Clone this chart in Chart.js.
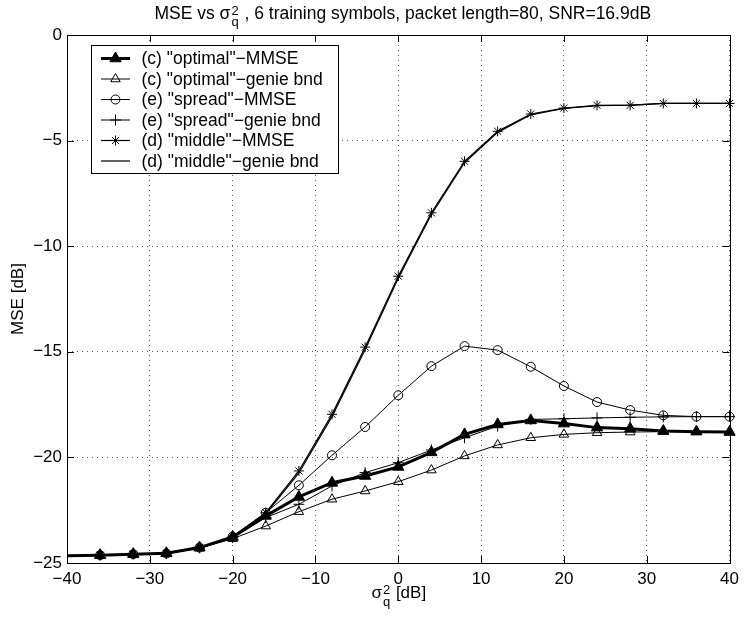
<!DOCTYPE html>
<html>
<head>
<meta charset="utf-8">
<script src="https://cdn.jsdelivr.net/npm/chart.js@4.4.0/dist/chart.umd.min.js"></script>
<style>
  html, body { margin: 0; padding: 0; background: #fff; }
  #wrap { width: 745px; height: 619px; }
</style>
</head>
<body>
<div id="wrap"><canvas id="mseChart" width="745" height="619"></canvas></div>
<script>
// sigma_q^2 [dB] at which the curves were evaluated
const sigmaDb = [-40, -36, -32, -28, -24, -20, -16, -12, -8, -4, 0, 4, 8, 12, 16, 20, 24, 28, 32, 36, 40];

// MSE [dB]
const optimalMmse  = [-24.66, -24.63, -24.58, -24.54, -24.27, -23.77, -22.77, -21.87, -21.20, -20.88, -20.45, -19.76, -18.91, -18.44, -18.25, -18.40, -18.59, -18.64, -18.75, -18.78, -18.80];
const optimalGenie = [-24.66, -24.63, -24.58, -24.56, -24.30, -23.85, -23.25, -22.57, -21.98, -21.59, -21.15, -20.60, -19.93, -19.41, -19.07, -18.91, -18.83, -18.80, -18.78, -18.78, -18.78];
const spreadMmse   = [-24.66, -24.63, -24.58, -24.55, -24.27, -23.75, -22.62, -21.32, -19.90, -18.56, -17.06, -15.68, -14.73, -14.92, -15.71, -16.62, -17.38, -17.76, -18.01, -18.07, -18.07];
const spreadGenie  = [-24.66, -24.63, -24.58, -24.55, -24.28, -23.80, -22.85, -22.22, -21.35, -20.72, -20.25, -19.65, -19.07, -18.52, -18.20, -18.17, -18.13, -18.10, -18.08, -18.07, -18.07];
const middleMmse   = [-24.66, -24.63, -24.58, -24.55, -24.27, -23.75, -22.62, -20.64, -17.96, -14.78, -11.42, -8.42, -5.98, -4.56, -3.74, -3.46, -3.33, -3.33, -3.24, -3.24, -3.24];
const middleGenie  = [-24.66, -24.63, -24.58, -24.55, -24.28, -23.78, -22.68, -20.74, -18.07, -14.89, -11.52, -8.50, -6.05, -4.61, -3.78, -3.48, -3.34, -3.32, -3.24, -3.24, -3.24];

const seriesLabels = [
    '(c) "optimal"\u2212MMSE',
    '(c) "optimal"\u2212genie bnd',
    '(e) "spread"\u2212MMSE',
    '(e) "spread"\u2212genie bnd',
    '(d) "middle"\u2212MMSE',
    '(d) "middle"\u2212genie bnd'
];

const FONT = '"Liberation Sans", Arial, Helvetica, sans-serif';

function toPoints(ys) {
    return sigmaDb.map((x, i) => ({ x: x, y: ys[i] }));
}

// no marker at the very first sample (matches the original figure)
function markerRadius(r) {
    return ctx => (ctx.dataIndex === 0 ? 0 : r);
}

function matlabTick(v) {
    return v < 0 ? '\u2212' + Math.abs(v) : String(v);
}

function drawMarker(ctx, style, radius, x, y) {
    if (Chart.helpers && Chart.helpers.drawPoint) {
        Chart.helpers.drawPoint(ctx, { pointStyle: style, radius: radius, rotation: 0, borderWidth: 1 }, x, y);
        return;
    }
    ctx.beginPath();
    ctx.arc(x, y, radius, 0, Math.PI * 2);
    ctx.fill();
    ctx.stroke();
}

// text like "σ" with stacked ^2 and _q
function drawSigmaText(ctx, before, after, cx, base, size) {
    const big = size + 'px ' + FONT;
    const small = Math.round(size * 0.75) + 'px ' + FONT;
    ctx.font = big;
    const w1 = ctx.measureText(before).width;
    const w3 = ctx.measureText(after).width;
    ctx.font = small;
    const w2 = Math.max(ctx.measureText('2').width, ctx.measureText('q').width) + 1;
    let x = cx - (w1 + w2 + w3) / 2;
    ctx.textAlign = 'left';
    ctx.textBaseline = 'alphabetic';
    ctx.font = big;
    ctx.fillText(before, x, base);
    x += w1 + 1;
    ctx.font = small;
    ctx.fillText('2', x, base - 4);
    ctx.fillText('q', x, base + 7.5);
    x += w2;
    ctx.font = big;
    ctx.fillText(after, x, base);
}

const decorPlugin = {
    id: 'decor',
    afterDraw(chart) {
        const { ctx, chartArea } = chart;
        const xs = chart.scales.x;
        const ys = chart.scales.y;
        const { left, right, top, bottom } = chartArea;
        ctx.save();
        ctx.fillStyle = '#000';
        ctx.strokeStyle = '#000';

        // axes box + inward ticks
        ctx.lineWidth = 1;
        ctx.strokeRect(Math.round(left) + 0.5, Math.round(top) + 0.5, Math.round(right - left), Math.round(bottom - top));
        ctx.beginPath();
        xs.ticks.forEach(t => {
            const px = Math.round(xs.getPixelForValue(t.value)) + 0.5;
            ctx.moveTo(px, bottom); ctx.lineTo(px, bottom - 7);
            ctx.moveTo(px, top); ctx.lineTo(px, top + 7);
        });
        ys.ticks.forEach(t => {
            const py = Math.round(ys.getPixelForValue(t.value)) + 0.5;
            ctx.moveTo(left, py); ctx.lineTo(left + 7, py);
            ctx.moveTo(right, py); ctx.lineTo(right - 7, py);
        });
        ctx.stroke();

        // title and axis labels
        drawSigmaText(ctx, 'MSE vs \u03c3', ' , 6 training symbols, packet length=80, SNR=16.9dB', (left + right) / 2 + 4, 18.5, 17.5);
        drawSigmaText(ctx, '\u03c3', ' [dB]', (left + right) / 2, 598, 17);
        ctx.save();
        ctx.translate(18, (top + bottom) / 2);
        ctx.rotate(-Math.PI / 2);
        ctx.font = '17px ' + FONT;
        ctx.textAlign = 'center';
        ctx.textBaseline = 'middle';
        ctx.fillText('MSE [dB]', 0, 0);
        ctx.restore();

        // legend box
        const bx = Math.round(left) + 24, by = Math.round(top) + 10, bw = 247, bh = 128;
        ctx.fillStyle = '#fff';
        ctx.fillRect(bx, by, bw, bh);
        ctx.strokeStyle = '#000';
        ctx.lineWidth = 1;
        ctx.strokeRect(bx + 0.5, by + 0.5, bw, bh);
        ctx.font = '17.5px ' + FONT;
        ctx.textAlign = 'left';
        ctx.textBaseline = 'middle';
        chart.data.datasets.forEach((ds, i) => {
            const y = by + 13.5 + i * 20.5;
            ctx.strokeStyle = '#000';
            ctx.lineWidth = ds.borderWidth;
            ctx.beginPath();
            ctx.moveTo(bx + 10, y);
            ctx.lineTo(bx + 39, y);
            ctx.stroke();
            if (ds.legendRadius > 0) {
                ctx.lineWidth = 1;
                ctx.fillStyle = ds.pointBackgroundColor;
                drawMarker(ctx, ds.pointStyle, ds.legendRadius, bx + 24.5, y);
            }
            ctx.fillStyle = '#000';
            ctx.fillText(ds.label, bx + 50.5, y + 1);
        });
        ctx.restore();
    }
};

const datasets = [
    { label: seriesLabels[0], data: toPoints(optimalMmse), borderWidth: 3, pointStyle: 'triangle', pointRadius: markerRadius(6.5), legendRadius: 6.5, pointBackgroundColor: '#000' },
    { label: seriesLabels[1], data: toPoints(optimalGenie), borderWidth: 1, pointStyle: 'triangle', pointRadius: markerRadius(5.5), legendRadius: 5.5, pointBackgroundColor: 'rgba(0,0,0,0)' },
    { label: seriesLabels[2], data: toPoints(spreadMmse), borderWidth: 1, pointStyle: 'circle', pointRadius: markerRadius(4.5), legendRadius: 4.5, pointBackgroundColor: 'rgba(0,0,0,0)' },
    { label: seriesLabels[3], data: toPoints(spreadGenie), borderWidth: 1, pointStyle: 'cross', pointRadius: markerRadius(5.5), legendRadius: 5.5, pointBackgroundColor: 'rgba(0,0,0,0)' },
    { label: seriesLabels[4], data: toPoints(middleMmse), borderWidth: 1.2, pointStyle: 'star', pointRadius: markerRadius(5), legendRadius: 5, pointBackgroundColor: 'rgba(0,0,0,0)' },
    { label: seriesLabels[5], data: toPoints(middleGenie), borderWidth: 1.2, pointStyle: 'circle', pointRadius: 0, legendRadius: 0, pointBackgroundColor: 'rgba(0,0,0,0)' }
].map(ds => Object.assign({
    borderColor: '#000',
    pointBorderColor: '#000',
    pointBorderWidth: 1,
    tension: 0,
    fill: false,
    clip: false
}, ds));

new Chart(document.getElementById('mseChart'), {
    type: 'line',
    data: { datasets: datasets },
    plugins: [decorPlugin],
    options: {
        responsive: false,
        animation: false,
        devicePixelRatio: 1,
        layout: { padding: { top: 35, right: 8, left: 0, bottom: 0 } },
        plugins: {
            legend: { display: false },
            tooltip: { enabled: false },
            title: { display: false }
        },
        scales: {
            x: {
                type: 'linear',
                min: -40,
                max: 40,
                ticks: { stepSize: 10, color: '#000', padding: 6, font: { family: FONT, size: 17 }, callback: matlabTick, maxRotation: 0 },
                grid: { color: '#555', lineWidth: 1, drawTicks: false },
                border: { display: false, dash: [1, 4] },
                afterFit: s => { s.height = 56; }
            },
            y: {
                min: -25,
                max: 0,
                ticks: { stepSize: 5, color: '#000', padding: 5, font: { family: FONT, size: 17 }, callback: matlabTick },
                grid: { color: '#555', lineWidth: 1, drawTicks: false },
                border: { display: false, dash: [1, 4] },
                afterFit: s => { s.width = 67; }
            }
        }
    }
});
</script>
</body>
</html>
